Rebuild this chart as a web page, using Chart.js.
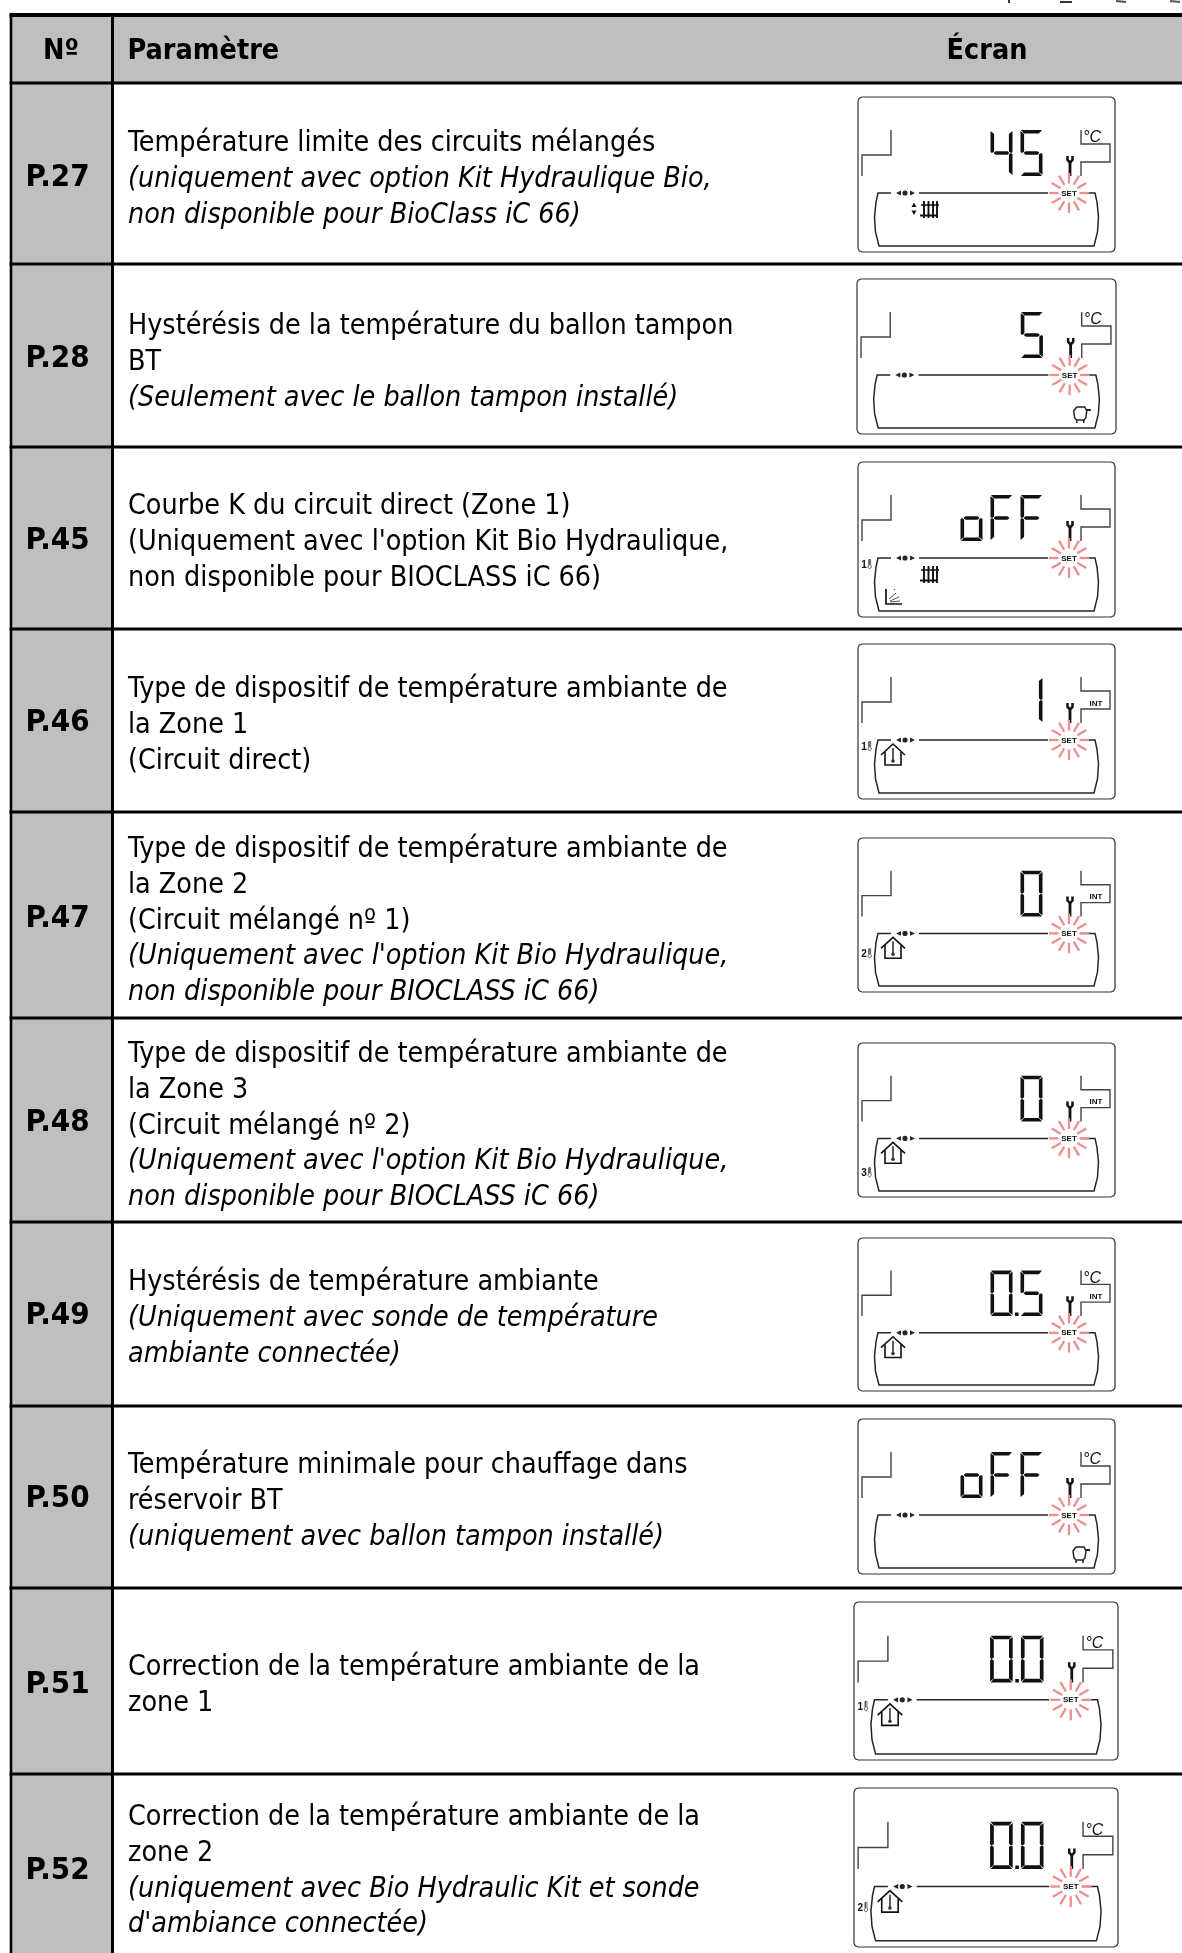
<!DOCTYPE html>
<html lang="fr">
<head>
<meta charset="utf-8">
<title>Paramètres</title>
<script src="https://cdn.jsdelivr.net/npm/chart.js@4"></script>
<style>
  html, body { margin: 0; padding: 0; background: #fff; }
  canvas { display: block; }
</style>
</head>
<body>
<canvas id="table" width="1182" height="1953"></canvas>
<script>
// Table content
const headers = ['Nº', 'Paramètre', 'Écran'];
const codes = ['P.27', 'P.28', 'P.45', 'P.46', 'P.47', 'P.48', 'P.49', 'P.50', 'P.51', 'P.52'];
const descriptions = [
  [['Température limite des circuits mélangés', 0], ['(uniquement avec option Kit Hydraulique Bio,', 1], ['non disponible pour BioClass iC 66)', 1]],
  [['Hystérésis de la température du ballon tampon', 0], ['BT', 0], ['(Seulement avec le ballon tampon installé)', 1]],
  [['Courbe K du circuit direct (Zone 1)', 0], ["(Uniquement avec l'option Kit Bio Hydraulique,", 0], ['non disponible pour BIOCLASS iC 66)', 0]],
  [['Type de dispositif de température ambiante de', 0], ['la Zone 1', 0], ['(Circuit direct)', 0]],
  [['Type de dispositif de température ambiante de', 0], ['la Zone 2', 0], ['(Circuit mélangé nº 1)', 0], ["(Uniquement avec l'option Kit Bio Hydraulique,", 1], ['non disponible pour BIOCLASS iC 66)', 1]],
  [['Type de dispositif de température ambiante de', 0], ['la Zone 3', 0], ['(Circuit mélangé nº 2)', 0], ["(Uniquement avec l'option Kit Bio Hydraulique,", 1], ['non disponible pour BIOCLASS iC 66)', 1]],
  [['Hystérésis de température ambiante', 0], ['(Uniquement avec sonde de température', 1], ['ambiante connectée)', 1]],
  [['Température minimale pour chauffage dans', 0], ['réservoir BT', 0], ['(uniquement avec ballon tampon installé)', 1]],
  [['Correction de la température ambiante de la', 0], ['zone 1', 0]],
  [['Correction de la température ambiante de la', 0], ['zone 2', 0], ['(uniquement avec Bio Hydraulic Kit et sonde', 1], ["d'ambiance connectée)", 1]]
];

// What each screen shows
const screenValues = ['45', '5', 'oFF', '1', '0', '0', '0.5', 'oFF', '0.0', '0.0'];
const screenCelsius = [1, 1, 0, 0, 0, 0, 1, 1, 1, 1];
const screenInt = [0, 0, 0, 1, 1, 1, 1, 0, 0, 0];
const screenZones = ['', '', '1', '1', '2', '3', '', '', '1', '2'];
const screenIcons = ['mixed', 'tank', 'curve', 'house', 'house', 'house', 'house', 'tank', 'house', 'house'];

// Layout, in page pixels
const rowEdges = [15, 83, 264, 447, 629, 812, 1018, 1222, 1406, 1588, 1774];
const firstLineY = [144, 327, 507, 690, 850, 1055, 1283, 1466, 1668, 1818];
const codeY = [178, 359, 541, 723, 919, 1123, 1316, 1499, 1685, 1871];
const frameX = [858, 857, 858, 858, 858, 858, 858, 858, 854, 854];
const frameW = [257, 259, 257, 257, 257, 257, 257, 257, 264, 264];
const frameY = [97, 279, 462, 644, 838, 1043, 1238, 1419, 1602, 1788];
const frameH = [155, 155, 155, 155, 154, 154, 153, 155, 158, 159];
const lineHeight = 35.7;

const INK = '#262626';
const datasets = [];

function addLine(points, color, width, opts) {
  datasets.push(Object.assign({
    data: points.map(p => ({ x: p[0], y: p[1] })),
    borderColor: color,
    borderWidth: width,
    pointRadius: 0,
    tension: 0,
    fill: false,
    clip: false
  }, opts));
}

function addShape(points, color) {
  addLine(points.concat([points[0]]), color, 0, { fill: 'shape', backgroundColor: color });
}

// Grid
addShape([[11, 15], [113, 15], [113, 1953], [11, 1953]], '#bfbfbf');
addShape([[113, 15], [1182, 15], [1182, 83], [113, 83]], '#bfbfbf');
rowEdges.forEach((y, i) => addLine([[9.5, y], [1182, y]], '#000', i === 0 ? 4 : 3));
addLine([[11, 14], [11, 1953]], '#000', 2.6);
addLine([[112.5, 14], [112.5, 1953]], '#000', 3);

// Bits of the line cut off above the table
addLine([[1009, 0], [1009, 3]], '#333', 2);
addLine([[1060, 2], [1072, 2]], '#333', 2);
addLine([[1116, 1], [1126, 2]], '#555', 2);
addLine([[1170, 1], [1180, 2]], '#555', 2);

// Seven segment digits, t = segment thickness, cell is 22 x 46
const t = 3.6;
const segments = {
  a: [[0.5, 0], [21.5, 0], [22 - t, t], [t, t]],
  b: [[22, 1], [22, 22], [20.5, 23], [22 - t, 21.5], [22 - t, 4]],
  c: [[22, 45], [22, 24], [20.5, 23], [22 - t, 24.5], [22 - t, 42]],
  d: [[0.5, 46], [21.5, 46], [22 - t, 46 - t], [t, 46 - t]],
  e: [[0, 45], [0, 24], [1.5, 23], [t, 24.5], [t, 42]],
  f: [[0, 1], [0, 22], [1.5, 23], [t, 21.5], [t, 4]],
  g: [[3, 23], [5, 21.3], [17, 21.3], [19, 23], [17, 24.7], [5, 24.7]]
};
const glyphs = { 0: 'abcdef', 1: 'bc', 4: 'fgbc', 5: 'afgcd', o: 'cdeg', F: 'afge' };

function drawScreen(i) {
  const fx = frameX[i], fy = frameY[i], sx = frameW[i] / 257, sy = frameH[i] / 155;
  const P = pts => pts.map(p => [fx + p[0] * sx, fy + p[1] * sy]);

  // Rounded frame
  addLine(P([[4, 0], [253, 0], [255.8, 1.2], [257, 4], [257, 151], [255.8, 153.8], [253, 155], [4, 155], [1.2, 153.8], [0, 151], [0, 4], [1.2, 1.2], [4, 0]]), '#333', 1.2);

  // Brackets and display body
  addLine(P([[33, 33], [33, 58], [4, 58], [4, 79]]), '#444', 1.4);
  addLine(P([[223, 33], [223, 47], [252, 47], [252, 65], [223, 65], [223, 79]]), '#444', 1.4);
  addLine(P([[33, 96], [20, 96], [18, 105], [16.5, 120], [17.5, 135], [21, 149], [236, 149], [239.5, 135], [240.5, 120], [239, 105], [237, 96], [222, 96]]), INK, 1.5);
  addLine(P([[61, 96], [190, 96]]), INK, 1.5);
  addShape(P([[38, 96], [43, 93.5], [43, 98.5]]), INK);
  addShape(P([[57, 96], [52, 93.5], [52, 98.5]]), INK);
  addLine(P([[47, 96]]), INK, 0, { pointRadius: 2.6, pointBackgroundColor: INK, pointBorderWidth: 0, showLine: false });

  // Wrench
  addLine(P([[212, 65], [212, 79]]), '#111', 2.8);
  addLine(P([[209.5, 59], [209.5, 63], [212, 65.5], [214.5, 63], [214.5, 59]]), '#111', 2.5);

  // SET rays
  for (let k = 0; k < 12; k++) {
    const a = k * Math.PI / 6;
    const inner = k % 6 === 0 ? 10.5 : 9.5;
    addLine(P([[211 + inner * Math.cos(a), 96 + inner * Math.sin(a)], [211 + 20 * Math.cos(a), 96 + 20 * Math.sin(a)]]), '#ec8e8e', 2.3);
  }

  // Digits, right aligned on the last cell
  const chars = screenValues[i].replace('.', '').split('');
  chars.forEach((ch, n) => {
    const u = 162.5 - (chars.length - 1 - n) * 30;
    glyphs[ch].split('').forEach(s => {
      addShape(P(segments[s].map(q => [u + q[0], 33 + q[1]])), '#111');
    });
  });
  if (screenValues[i].includes('.')) {
    addShape(P([[157, 75.5], [160.5, 75.5], [160.5, 79], [157, 79]]), '#111');
  }

  // Zone thermometer
  if (screenZones[i]) {
    const zv = { 1: 102, 2: 116, 3: 130 }[screenZones[i]];
    addLine(P([[11, zv - 4.5], [11, zv + 1], [9.8, zv + 3], [11.5, zv + 5], [13.5, zv + 3], [12.6, zv + 1], [12.6, zv - 4.5], [11, zv - 4.5]]), '#555', 0.9);
  }

  // Icons
  const icon = screenIcons[i];
  if (icon === 'house') {
    addLine(P([[23, 111], [35, 100], [47, 111]]), '#111', 1.6);
    addLine(P([[27, 108], [27, 121], [43, 121], [43, 108]]), '#111', 1.6);
    addLine(P([[35, 104], [35, 116]]), '#333', 1.6);
    addLine(P([[35, 117]]), '#333', 0, { pointRadius: 1.8, pointBackgroundColor: '#333', pointBorderWidth: 0, showLine: false });
  }
  if (icon === 'mixed' || icon === 'curve') {
    [66, 70.5, 75, 79].forEach(u => addLine(P([[u, 104], [u, 121]]), '#111', 1.9));
    addLine(P([[63, 108], [81, 108]]), '#111', 1.5);
    addLine(P([[62, 118.5], [80, 118.5]]), '#111', 2);
  }
  if (icon === 'mixed') {
    addShape(P([[56, 105.5], [58.5, 110], [53.5, 110]]), '#111');
    addShape(P([[56, 118], [58.5, 113.5], [53.5, 113.5]]), '#111');
  }
  if (icon === 'curve') {
    addLine(P([[28, 127], [28, 142], [44, 142]]), '#111', 1.7);
    addLine(P([[32, 140], [42, 139]]), '#555', 1);
    addLine(P([[32, 139], [41, 135]]), '#555', 1);
    addLine(P([[31, 137], [38, 131]]), '#555', 1);
    addLine(P([[36, 127], [37, 128]]), '#777', 1.6);
  }
  if (icon === 'tank') {
    addLine(P([[218, 128], [226, 128], [228, 132], [227, 139], [225, 141], [218, 141], [216, 139], [215, 132], [218, 128]]), '#222', 1.5);
    addLine(P([[218, 141], [218, 144]]), '#222', 1.5);
    addLine(P([[225, 141], [225, 144]]), '#222', 1.5);
    addLine(P([[228, 131], [232, 131]]), '#222', 2);
  }
}

screenValues.forEach((v, i) => drawScreen(i));

// Chart.js paints the last dataset first
datasets.reverse();

const tableFont = '"DejaVu Sans Condensed", "DejaVu Sans", sans-serif';

// The chart has no text marks of its own, so cell text goes in through a plugin
const tableText = {
  id: 'tableText',
  afterDatasetsDraw(chart) {
    const { ctx, scales } = chart;
    const X = v => scales.x.getPixelForValue(v);
    const Y = v => scales.y.getPixelForValue(v);
    ctx.save();
    ctx.textBaseline = 'middle';
    ctx.fillStyle = '#000';

    ctx.font = 'bold 28.5px ' + tableFont;
    ctx.textAlign = 'center';
    ctx.fillText(headers[0], X(61), Y(52));
    ctx.fillText(headers[2], X(987), Y(52));
    ctx.textAlign = 'left';
    ctx.fillText(headers[1], X(127.5), Y(52));

    ctx.textAlign = 'center';
    ctx.font = 'bold 31px ' + tableFont;
    codes.forEach((code, i) => ctx.fillText(code, X(57.5), Y(codeY[i])));

    ctx.textAlign = 'left';
    descriptions.forEach((lines, i) => {
      lines.forEach((line, n) => {
        ctx.font = (line[1] ? 'italic ' : '') + '28.4px ' + tableFont;
        ctx.fillText(line[0], X(128), Y(firstLineY[i] + n * lineHeight));
      });
    });

    // Screen labels
    screenValues.forEach((v, i) => {
      const sx = frameW[i] / 257, sy = frameH[i] / 155;
      const U = u => X(frameX[i] + u * sx);
      const V = u => Y(frameY[i] + u * sy);
      ctx.fillStyle = '#111';
      ctx.textAlign = 'center';
      ctx.font = 'bold 8px "Liberation Sans", sans-serif';
      ctx.fillText('SET', U(211), V(96.3));
      if (screenCelsius[i]) {
        ctx.font = 'italic 16px "Liberation Sans", sans-serif';
        ctx.fillText('°C', U(234), V(41));
      }
      if (screenInt[i]) {
        ctx.font = 'bold 8px "Liberation Sans", sans-serif';
        ctx.fillText('INT', U(238), V(59.5));
      }
      if (screenZones[i]) {
        const zv = { 1: 102, 2: 116, 3: 130 }[screenZones[i]];
        ctx.font = 'bold 10px "Liberation Sans", sans-serif';
        ctx.fillText(screenZones[i], U(6), V(zv + 1));
      }
    });
    ctx.restore();
  }
};

new Chart(document.getElementById('table'), {
  type: 'line',
  data: { datasets },
  plugins: [tableText],
  options: {
    responsive: false,
    animation: false,
    events: [],
    layout: { padding: 0, autoPadding: false },
    plugins: { legend: { display: false }, tooltip: { enabled: false } },
    scales: {
      x: { type: 'linear', min: 0, max: 1182, display: false },
      y: { type: 'linear', min: 0, max: 1953, reverse: true, display: false }
    }
  }
});
</script>
</body>
</html>
